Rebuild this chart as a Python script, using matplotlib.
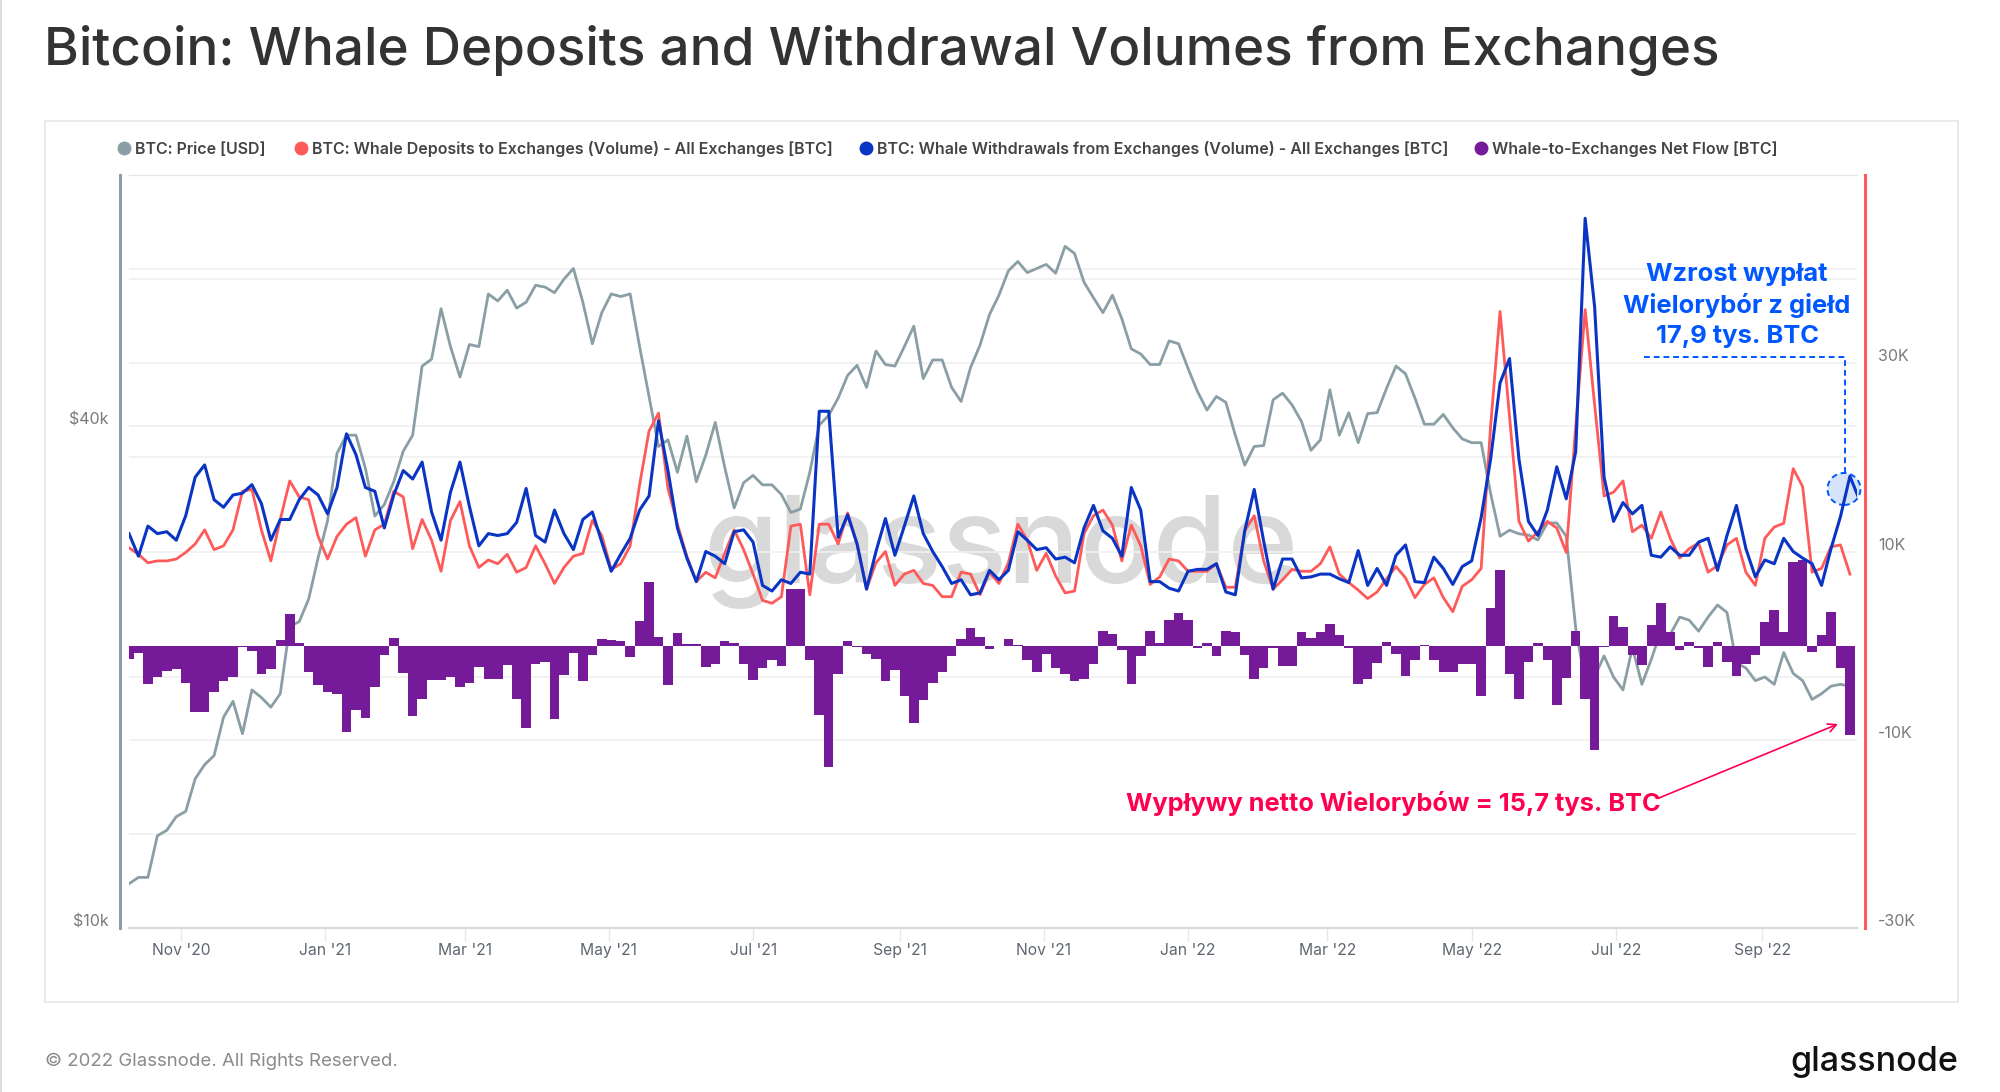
import matplotlib
matplotlib.use("Agg")
import matplotlib.pyplot as plt
import numpy as np
import pandas as pd
from matplotlib.lines import Line2D
from matplotlib.patches import Ellipse, Rectangle, FancyArrowPatch
from matplotlib.ticker import NullLocator
from matplotlib.transforms import ScaledTranslation, blended_transform_factory

plt.rcParams['font.family'] = ['Inter', 'DejaVu Sans']

# 4-day samples, starting 10 Oct 2020
price_k = [
    11.3, 11.5, 11.5, 12.9, 13.1, 13.6, 13.8, 15.1, 15.7, 16.1, 17.9, 18.7, 17.1, 19.3, 18.9, 18.4, 19.1,
    23, 23.3, 24.8, 27.8, 30.8, 37.1, 39, 39, 35.6, 31.2, 32.2, 34.3, 37.3, 39, 47.2, 48.1, 55.3,
    49.8, 45.8, 50.1, 49.8, 57.6, 56.5, 58.2, 55.4, 56.3, 59, 58.7, 57.8, 60, 61.8, 56.3, 50.2, 54.7,
    57.6, 57.2, 57.6, 49.8, 43.4, 37.8, 38.5, 35.2, 38.9, 34.3, 36.9, 40.4, 35.7, 31.9, 34.2, 34.9,
    34, 34, 33.1, 31.5, 31.8, 35.2, 40.1, 41.2, 43.2, 46, 47.3, 44.5, 49.2, 47.4, 47.2, 49.8, 52.7,
    45.6, 48, 48, 44.5, 42.8, 47, 50, 54.4, 57.4, 61.4, 63, 61.1, 61.8, 62.5, 61, 65.7, 64.4,
    59.5, 57, 54.7, 57.4, 53.8, 49.5, 48.8, 47.4, 47.4, 50.6, 50.2, 46.9, 44, 41.8, 43.4, 42.7, 39,
    35.9, 37.8, 37.9, 43, 43.8, 42.4, 40.5, 37.4, 38.5, 44.2, 39, 41.5,
    38.2, 41.4, 41.5, 44.4, 47.2, 46.2, 43.2, 40.2, 40.2, 41.3, 39.8, 38.6, 38.2, 38.2, 33.2, 29.5,
    30, 29.7, 29.6, 29.2, 30.6, 30.6, 29.5, 22.9, 19.7, 20, 21.2, 20, 19.3, 21.7, 19.6, 21, 22.7, 22.5,
    23.6, 23.4, 22.7, 23.6, 24.4, 23.9, 20.8, 20.5, 19.8, 20, 19.6, 21.4, 20.2, 19.8, 18.8, 19.1, 19.5,
    19.6, 19.5, np.nan,
]
deposits_k = [
    10.4, 9.7, 8.8, 9, 9, 9.2, 9.9, 10.8, 12.3, 10.2, 10.6, 12.3, 16.4, 16.6, 12.3, 9, 13.4,
    17.5, 15.8, 15.5, 11.6, 9.2, 11.6, 12.9, 13.6, 9.5, 12.3, 12.9, 16.4, 15.8, 10.3, 13.4, 11.2, 7.9,
    13.3, 15.3, 10.6, 8.3, 9.1, 8.7, 9.7, 7.8, 8.3, 10.6, 8.7, 6.6, 8.3, 9.5, 9.8, 13.3, 11.7,
    8.1, 8.7, 10.6, 17.1, 22.8, 24.7, 16.7, 12.9, 9.5, 6.8, 7.8, 7.2, 9.8, 12.3, 10.2, 7.6,
    4.8, 4.5, 5.2, 12.7, 12.9, 5.4, 12.9, 12.9, 10.8, 14.1, 10.8, 6, 8.8, 10, 6.4, 7.6, 8,
    6.6, 6.4, 5.2, 5.2, 7.8, 7.6, 5.4, 7.8, 6.6, 8.8, 12.9, 11.2, 8, 9.8, 7.4, 5.6, 5.8,
    11.9, 13.8, 14.4, 12.8, 9, 12.8, 10.6, 6.5, 7.3, 9.2, 9, 7.9, 7.9, 7.9, 8.7, 6.2, 6.2,
    12.2, 13.8, 9, 6, 7, 8.1, 7.9, 7.9, 8.7, 10.5, 7.6, 6.7,
    5.9, 5, 5.7, 7.1, 8.4, 7.2, 5.1, 6.5, 7.2, 5.1, 3.6, 6.3, 7, 8.2, 23.3, 35.5,
    24.4, 13.2, 11.1, 12.1, 13.2, 12.5, 9.9, 23.3, 35.7, 25.6, 15.9, 16.3, 17.5, 12.1, 12.8, 11.4, 14.2, 11.4,
    9.3, 10.3, 10.9, 7.8, 8.5, 10.7, 11.4, 7.8, 6.4, 11.4, 12.6, 13, 18.8, 16.9, 7.8, 8.2, 10.5,
    10.7, 7.6, np.nan,
]
withdrawals_k = [
    11.9, 9.5, 12.7, 11.9, 12.1, 11.2, 13.8, 17.9, 19.2, 15.5, 14.7, 16, 16.2, 17.1, 15.1, 11.2, 13.4,
    13.4, 15.5, 16.8, 16, 14, 16.8, 22.5, 20.3, 16.8, 16.4, 12.5, 16, 18.6, 17.7, 19.5, 14.2, 11.2,
    16.3, 19.5, 14.8, 10.6, 11.9, 11.7, 11.9, 13.1, 16.7, 11.7, 11, 14.4, 11.9, 10.2, 13.4, 14.2, 11,
    7.9, 9.7, 11.4, 14.4, 15.9, 23.9, 18.6, 12.5, 9.3, 6.8, 10, 9.5, 8.7, 12.1, 12.3, 11,
    6.4, 5.8, 7, 6.6, 7.8, 7.6, 24.9, 24.9, 11.5, 13.9, 10.8, 6, 10, 13.5, 9.6, 12.7, 15.9,
    11.9, 10, 8.4, 6.6, 7, 5.4, 5.6, 8, 7, 8, 12.1, 11.2, 10.2, 10.4, 9.2, 9.4, 8.8,
    12.5, 14.9, 12.2, 11.4, 9.5, 16.8, 14.4, 6.8, 6.8, 6.1, 5.8, 7.9, 8.1, 8.1, 8.7, 5.7, 5.4,
    12.2, 16.6, 11.1, 6, 9.2, 9.2, 7.2, 7.3, 7.6, 7.6, 7.1, 6.7,
    10.1, 6.4, 8.2, 6.4, 9.6, 10.7, 6.8, 6.7, 9.4, 8.2, 6.5, 8.4, 9, 13.6, 19.8, 27.9,
    30.5, 19.8, 13.2, 11.7, 14.4, 19, 15.6, 20.6, 45.4, 36, 17.9, 13.2, 15.2, 14, 14.9, 9.6, 9.4, 10.5,
    9.6, 9.6, 11, 11.4, 8, 11.7, 14.9, 10.3, 7.3, 9.1, 8.7, 11.4, 10, 9.3, 8.7, 6.4, 10.3,
    13.7, 18, 15.5,
]
net_flow_k = [
    -1.4, -0.8, -4.1, -3.3, -2.7, -2.5, -4, -7, -7, -4.9, -3.8, -3.3, -0.1, -0.6, -3, -2.5, 0.6,
    3.4, 0.3, -2.8, -4.2, -4.9, -5.1, -9.2, -6.8, -7.7, -4.4, -1, 0.8, -2.9, -7.5, -5.7, -3.6, -3.6,
    -3.3, -4.4, -4, -2.3, -3.5, -3.5, -2.1, -5.7, -8.8, -1.9, -1.7, -7.8, -3.1, -0.8, -3.8, -1, 0.7,
    0.6, 0.5, -1.2, 2.6, 6.8, 0.9, -4.2, 1.3, 0.2, 0.2, -2.3, -1.9, 0.5, 0.3, -1.9, -3.6,
    -2.4, -1.5, -2.2, 6, 6, -1.5, -7.4, -12.9, -3, 0.5, -0.1, -0.9, -1.4, -3.8, -2.6, -5.3, -8.2,
    -5.8, -4, -2.8, -1.1, 0.7, 1.9, 0.9, -0.4, 0, 0.7, 0.1, -1.5, -2.8, -0.9, -2.4, -3, -3.8,
    -3.5, -1.9, 1.6, 1.2, -0.5, -4.1, -1.1, 1.6, 0.3, 2.7, 3.5, 2.7, -0.3, 0.3, -1.1, 1.6, 1.4,
    -1, -3.5, -2.4, -0.3, -2.2, -2.2, 1.4, 0.8, 1.4, 2.3, 1.1, -0.2,
    -4.1, -3.5, -1.8, 0.4, -0.9, -3.2, -1.5, 0.1, -1.5, -2.8, -2.8, -2, -1.9, -5.3, 4, 8,
    -3, -5.7, -1.7, 0.3, -1.5, -6.3, -3.4, 1.6, -5.7, -11.1, -0.1, 3.2, 2, -1, -2.1, 2.2, 4.5, 1.5,
    -0.5, 0.4, -0.3, -2.3, 0.4, -1.7, -3.2, -1.9, -1, 2.5, 3.8, 1.5, 8.9, 9.1, -0.7, 1.1, 3.6,
    -2.4, -9.5, np.nan,
]

price_ticks = [10, 20, 40, 60]
price_tick_labels = ['$10k', '', '$40k', '']
flow_ticks = [-30, -10, 10, 30]
flow_tick_labels = ['-30K', '-10K', '10K', '30K']
flow_grid = [-20, -10, 10, 20, 30, 40]
month_ticks = ['2020-11-01', '2021-01-01', '2021-03-01', '2021-05-01', '2021-07-01', '2021-09-01',
               '2021-11-01', '2022-01-01', '2022-03-01', '2022-05-01', '2022-07-01', '2022-09-01']
month_labels = ["Nov '20", "Jan '21", "Mar '21", "May '21", "Jul '21", "Sep '21",
                "Nov '21", "Jan '22", "Mar '22", "May '22", "Jul '22", "Sep '22"]
legend_items = [
    ('BTC: Price [USD]', '#8a9ea5', 124, 135),
    ('BTC: Whale Deposits to Exchanges (Volume) - All Exchanges [BTC]', '#ff5a5a', 301, 312),
    ('BTC: Whale Withdrawals from Exchanges (Volume) - All Exchanges [BTC]', '#0a35c4', 866, 877),
    ('Whale-to-Exchanges Net Flow [BTC]', '#751b9a', 1481, 1492),
]

W, H = 2000, 1092
BLUE_NOTE = '#0057ff'
PINK_NOTE = '#ff0050'


def fx(px):
    return px / W


def fy(py):
    return 1 - py / H


dates = pd.date_range('2020-10-10', periods=len(price_k), freq='4D')

fig = plt.figure(figsize=(20, 10.92), dpi=100, facecolor='white')
tf = fig.transFigure

# page furniture
fig.add_artist(Rectangle((fx(45), fy(1002)), (1958 - 45) / W, (1002 - 121) / H, transform=tf,
                         facecolor='white', edgecolor='#e6e6e6', lw=1.2, zorder=-1))
fig.add_artist(Line2D([fx(1), fx(1)], [0, 1], transform=tf, color='#dcdcdc', lw=1.5, zorder=-1))
fig.text(fx(44), fy(50), 'Bitcoin: Whale Deposits and Withdrawal Volumes from Exchanges',
         fontsize=38.2, fontweight='medium', color='#333333', va='center', ha='left')
fig.text(fx(45), fy(1061), '\u00a9 2022 Glassnode. All Rights Reserved.',
         fontsize=13.4, color='#8a8a8a', va='center', ha='left')
fig.text(fx(1958), fy(1062), 'glassnode', fontsize=24.5, fontweight='medium', color='#111111',
         va='center', ha='right')

for label, colour, dot_x, text_x in legend_items:
    fig.add_artist(Line2D([fx(dot_x)], [fy(148)], transform=tf, marker='o', ms=9, color=colour, lw=0))
    fig.text(fx(text_x), fy(149), label, fontsize=11.5, fontweight='semibold', color='#444444',
             va='center', ha='left')

ax_price = fig.add_axes([fx(129), fy(928), (1857 - 129) / W, (928 - 175) / H])
ax_flow = ax_price.twinx()

# price sits under the bars, the flows over them
ax_price.set_yscale('log')
ax_price.set_ylim(10, 80)
ax_flow.set_ylim(-30, 50)
ax_price.set_xlim(dates[0], dates[0] + pd.Timedelta(days=731))

ax_price.text(fx(1001), fy(583), 'glassnode', transform=tf, fontsize=87, fontweight='medium', color='#d9d9d9',
              ha='center', va='baseline', zorder=0.2)
ax_price.plot(dates, price_k, color='#8a9ea5', lw=2.0, zorder=2)
ax_flow.bar(dates, net_flow_k, width=4.05, color='#751b9a', lw=0, zorder=2)
ax_flow.plot(dates, deposits_k, color='#ff5a5a', lw=2.0, zorder=3)
ax_flow.plot(dates, withdrawals_k, color='#0a35c4', lw=2.2, zorder=4)

# grid
ax_price.yaxis.set_minor_locator(NullLocator())
ax_price.set_yticks(price_ticks, price_tick_labels)
ax_price.grid(axis='y', color='#f0f0f0', lw=1.2)
ax_price.set_axisbelow(True)
flow_trans = blended_transform_factory(ax_price.transAxes, ax_flow.transData)
ax_price.hlines(flow_grid, 0, 1, transform=flow_trans, color='#f0f0f0', lw=1.2, zorder=0.5)
ax_flow.set_yticks(flow_ticks, flow_tick_labels)

ax_price.set_xticks(pd.to_datetime(month_ticks), month_labels)
ax_price.tick_params(axis='x', length=9, width=1, color='#e8e8e8', pad=1.7, labelsize=11.3,
                     labelcolor='#5f6670')

for ax in (ax_price, ax_flow):
    ax.spines['top'].set_color('#e6e6e6')
    ax.spines['bottom'].set_color('#d5d8dc')
    ax.spines['bottom'].set_linewidth(1.5)
    ax.spines['left'].set_visible(False)
    ax.spines['right'].set_visible(False)

ax_price.spines['left'].set_visible(True)
ax_price.spines['left'].set_position(('outward', 6.5))
ax_price.spines['left'].set_color('#8a9ea5')
ax_price.spines['left'].set_linewidth(2.2)
ax_flow.spines['right'].set_visible(True)
ax_flow.spines['right'].set_position(('outward', 6))
ax_flow.spines['right'].set_color('#ff5a5a')
ax_flow.spines['right'].set_linewidth(2.2)

# set_position resets the ticks, so the labels are styled after it
ax_price.tick_params(axis='y', length=0, pad=8, labelsize=11.5, labelcolor='#7a7a7a')
ax_flow.tick_params(axis='y', length=0, pad=9, labelsize=11.5, labelcolor='#7a7a7a')
lift = ScaledTranslation(0, 8 / 100, fig.dpi_scale_trans)
for lab in ax_price.get_yticklabels() + ax_flow.get_yticklabels():
    lab.set_transform(lab.get_transform() + lift)

# annotations
ax_flow.add_patch(Ellipse((fx(1844), fy(489)), 33 / W, 32 / H, transform=tf, facecolor='#d6e4fb',
                          edgecolor=BLUE_NOTE, lw=1.4, ls=(0, (3, 2)), zorder=1.5, clip_on=False))
ax_flow.add_line(Line2D([fx(1644), fx(1845), fx(1845)], [fy(356.5), fy(356.5), fy(474)], transform=tf,
                        color=BLUE_NOTE, lw=1.4, ls=(0, (3, 2)), zorder=5))
for note, note_y in zip(['Wzrost wyp\u0142at', 'Wieloryb\u00f3r z gie\u0142d', '17,9 tys. BTC'], [275, 306, 336]):
    fig.text(fx(1737), fy(note_y), note, fontsize=18.4, fontweight='bold', color=BLUE_NOTE,
             ha='center', va='center')
fig.text(fx(1126), fy(803), 'Wyp\u0142ywy netto Wielorybów = 15,7 tys. BTC', fontsize=18.3, fontweight='bold',
         color=PINK_NOTE, ha='left', va='center')
fig.add_artist(FancyArrowPatch((fx(1659), fy(798)), (fx(1838), fy(724)), transform=tf,
                               arrowstyle='->,head_length=6,head_width=3', color=PINK_NOTE, lw=1.2,
                               shrinkA=0, shrinkB=0))

fig.savefig('out.png', dpi=100)
